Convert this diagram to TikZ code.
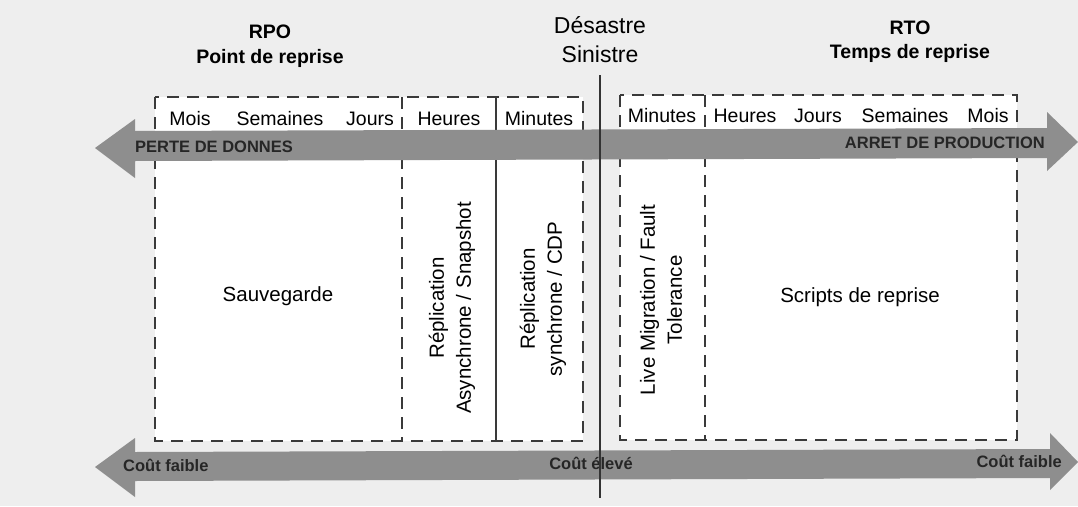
\documentclass[tikz,border=0pt]{standalone}
\usepackage{fontspec}
\setmainfont{Liberation Sans}
\usepackage{tikz}
\usetikzlibrary{positioning}
\definecolor{fond}{HTML}{EEEEEE}
\definecolor{fleche}{HTML}{8E8E8E}
\definecolor{trait}{HTML}{3A3A3A}

\begin{document}
\begin{tikzpicture}[x=1pt, y=-1pt,
	titre/.style={font=\fontsize{19.5}{22}\selectfont\bfseries, anchor=base, inner sep=0pt},
	sinistre/.style={font=\fontsize{23}{26}\selectfont, anchor=base, inner sep=0pt},
	duree/.style={font=\fontsize{19.5}{22}\selectfont, anchor=base, inner sep=0pt},
	solution/.style={font=\fontsize{20.5}{27}\selectfont, align=center, inner sep=0pt},
	flechetxt/.style={font=\fontsize{16.5}{18}\selectfont\bfseries, text=black!85, inner sep=0pt},
	cadre/.style={draw=trait, line width=1.2pt, dash pattern=on 12pt off 8pt},
	sep/.style={draw=trait, line width=1.1pt}]
		\useasboundingbox (0,0) rectangle (1078,506);
		\fill[fond] (0,0) rectangle (1078,506);
		
		% titres
		\node[titre] (rpo) at (270,38) {RPO};
		\node[titre] (pointrep) at (270,63) {Point de reprise};
		\node[sinistre] (desastre) at (600,33) {Désastre};
		\node[sinistre] (sin) at (600,62) {Sinistre};
		\node[titre] (rto) at (910,34) {RTO};
		\node[titre] (tempsrep) at (910,58) {Temps de reprise};
		
		% cadres
		\draw[cadre, fill=white] (155,97) rectangle (583,441);
		\draw[cadre, fill=white] (620,95) rectangle (1017,440);
		\draw[cadre] (402,97) -- (402,441);
		\draw[sep] (496,97) -- (496,441);
		\draw[cadre] (705,95) -- (705,440);
		
		\node[duree] (mois) at (190,125) {Mois};
		\node[duree] (sem) at (280,125) {Semaines};
		\node[duree] (jours) at (370,125) {Jours};
		\node[duree] (heures) at (449,125) {Heures};
		\node[duree] (min) at (539,125) {Minutes};
		\node[duree] (min2) at (662,122) {Minutes};
		\node[duree] (heures2) at (745,122) {Heures};
		\node[duree] (jours2) at (818,122) {Jours};
		\node[duree] (sem2) at (905,122) {Semaines};
		\node[duree] (mois2) at (988,122) {Mois};
		
		% fleches
		\fill[fleche] (95,148) -- (135,119) -- (135,131) -- (1047,128) -- (1047,112) -- (1078,142)
			-- (1047,171) -- (1047,158) -- (135,161) -- (135,178) -- cycle;
		\fill[fleche] (95,467) -- (135,438) -- (135,452) -- (1050,449) -- (1050,433) -- (1078,462)
			-- (1050,490) -- (1050,478) -- (135,481) -- (135,497) -- cycle;
		\node[flechetxt, anchor=base west] (perte) at (135,152) {PERTE DE DONNES};
		\node[flechetxt, anchor=base east] (arret) at (1045,148) {ARRET DE PRODUCTION};
		\node[flechetxt, anchor=base west] (faible) at (123,471) {Coût faible};
		\node[flechetxt, anchor=base] (eleve) at (591,469) {Coût élevé};
		\node[flechetxt, anchor=base east] (faible2) at (1062,467) {Coût faible};
		
		% ligne du sinistre
		\coordinate (haut) at (600,75);
		\coordinate (bas) at (600,498);
		\draw[line width=2pt, black!80] (haut) -- (bas);
		
		% solutions
		\node[solution] (sauv) at (278,296) {Sauvegarde};
		\node[solution, rotate=90] (async) at (452,308) {Réplication\\Asynchrone / Snapshot};
		\node[solution, rotate=90] (sync) at (543,299) {Réplication\\synchrone / CDP};
		\node[solution, rotate=90] (live) at (661,300) {Live Migration / Fault\\Tolerance};
		\node[solution] (scripts) at (860,297) {Scripts de reprise};
	\end{tikzpicture}
\end{document}
